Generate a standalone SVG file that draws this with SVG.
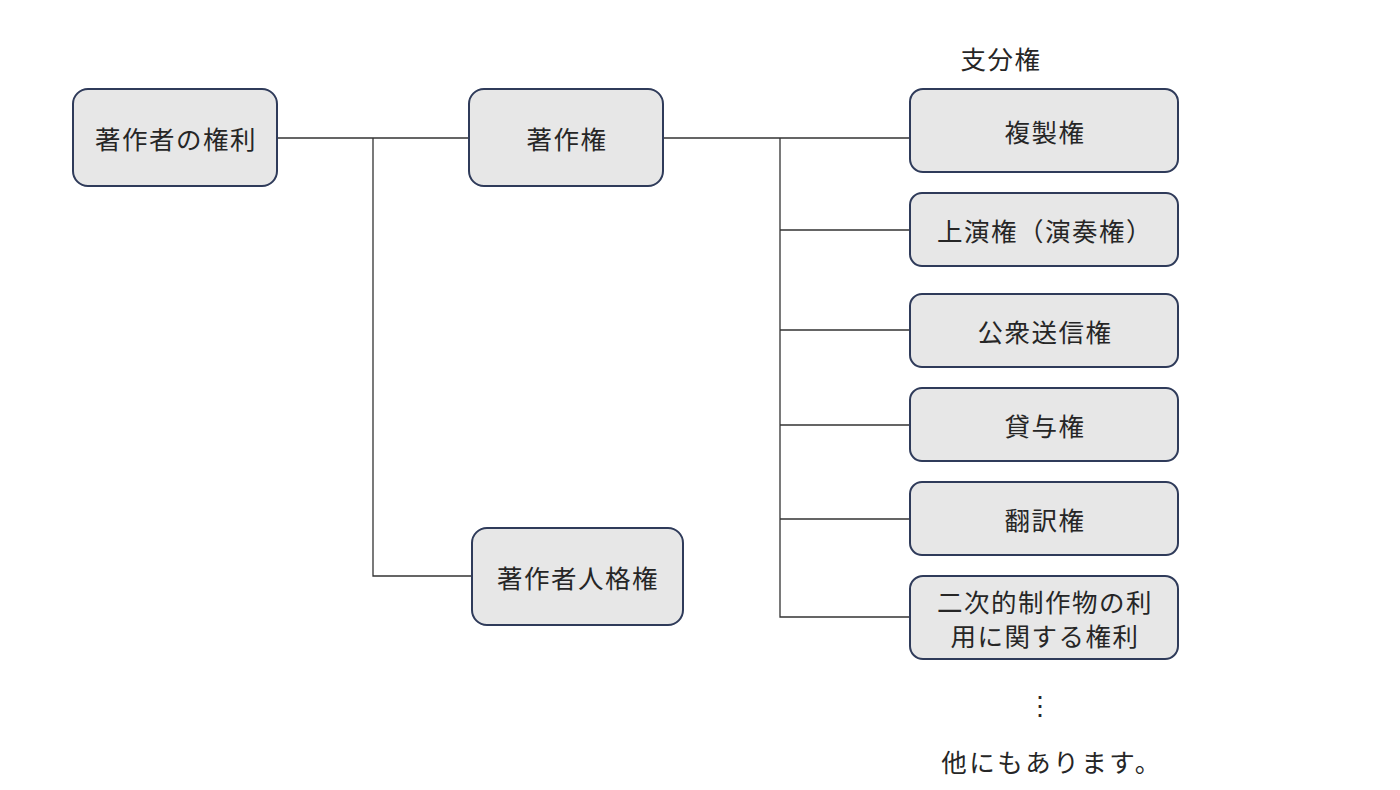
<svg xmlns="http://www.w3.org/2000/svg" width="1400" height="790" viewBox="0 0 1400 790">
<style>
.box{fill:#e7e7e7;stroke:#2f3b5a;stroke-width:2}
.t{font-family:"Noto Sans CJK JP","Noto Sans",sans-serif;font-size:25.5px;fill:#262626;text-anchor:middle;dominant-baseline:central;letter-spacing:1.5px}
.ln{stroke:#333;stroke-width:1.3;fill:none}
</style>
<rect width="1400" height="790" fill="#fff"/>
<g id="connectors">
<path class="ln" d="M277 138H469M373 138V576H472"/>
<path class="ln" d="M663 138H910M780 138V617H910M780 230H910M780 330H910M780 425H910M780 519H910"/>
</g>
<g id="n1"><rect class="box" x="73" y="89" width="204" height="97" rx="15"/><text class="t" x="176" y="137">著作者の権利</text></g>
<g id="n2"><rect class="box" x="469" y="89" width="194" height="97" rx="15"/><text class="t" x="567" y="137">著作権</text></g>
<g id="n3"><rect class="box" x="472" y="528" width="211" height="97" rx="15"/><text class="t" x="578" y="576">著作者人格権</text></g>
<g id="label"><text class="t" x="1001" y="57">支分権</text></g>
<g id="r1"><rect class="box" x="910" y="89" width="268" height="83" rx="13"/><text class="t" x="1045" y="130">複製権</text></g>
<g id="r2"><rect class="box" x="910" y="193" width="268" height="73" rx="12"/><text class="t" x="1045" y="229">上演権（演奏権）</text></g>
<g id="r3"><rect class="box" x="910" y="294" width="268" height="73" rx="12"/><text class="t" x="1045" y="330">公衆送信権</text></g>
<g id="r4"><rect class="box" x="910" y="388" width="268" height="73" rx="12"/><text class="t" x="1045" y="424">貸与権</text></g>
<g id="r5"><rect class="box" x="910" y="482" width="268" height="73" rx="12"/><text class="t" x="1045" y="518">翻訳権</text></g>
<g id="r6"><rect class="box" x="910" y="576" width="268" height="83" rx="13"/><text class="t" x="1045" y="600">二次的制作物の利</text><text class="t" x="1045" y="634">用に関する権利</text></g>
<g id="more"><text class="t" x="1040" y="703" style="letter-spacing:0">⋮</text><text class="t" x="1052" y="760" style="letter-spacing:2.5px">他にもあります。</text></g>
</svg>
